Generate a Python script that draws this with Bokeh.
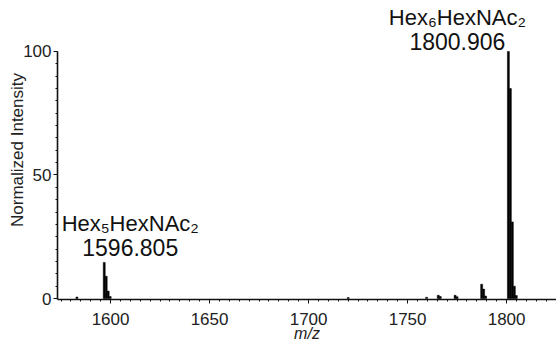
from bokeh.plotting import figure
from bokeh.models import SingleIntervalTicker, Range1d
from bokeh.embed import file_html
from bokeh.resources import INLINE
from bokeh.core.properties import value

# Spectrum (m/z, normalized intensity)
mz = [1583.0, 1596.8, 1597.8, 1598.8, 1599.8, 1720.0, 1759.6, 1765.5, 1766.5,
      1774.0, 1775.0, 1787.4, 1788.4, 1789.4, 1800.9, 1801.9, 1802.9, 1803.9, 1804.9]
intensity = [0.6, 14.6, 9.0, 3.0, 0.8, 0.4, 0.5, 1.3, 0.8,
             1.3, 0.7, 5.8, 3.8, 1.0, 100.0, 85.0, 31.0, 5.0, 1.2]

# Annotated peaks
peak_names = ["Hex\u2085HexNAc\u2082", "Hex\u2086HexNAc\u2082"]
peak_mz = [1596.805, 1800.906]
peak_height = [14.6, 100.0]
peak_mz_text = ["%.3f" % m for m in peak_mz]

FONT = "Liberation Sans"

p = figure(width=556, height=344, output_backend="svg", toolbar_location=None,
           x_range=Range1d(1573.2, 1825.2), y_range=Range1d(-0.4, 120.6),
           min_border_left=57, min_border_right=0, min_border_top=0,
           min_border_bottom=45, background_fill_color="white",
           border_fill_color="white")

p.vbar(x=mz, top=intensity, bottom=0, width=1.0, fill_color="black",
       line_color="black", line_width=0.5)

# labels anchored on the peaks
p.text(x=peak_mz, y=peak_height, text=peak_mz_text, text_font=value(FONT),
       text_font_size="23px", text_align="center", text_baseline="alphabetic",
       x_offset=[26, -51], y_offset=[-15, -10], text_color="#111")
p.text(x=peak_mz, y=peak_height, text=peak_names, text_font=value(FONT),
       text_font_size="22px", text_align="center", text_baseline="alphabetic",
       x_offset=[26, -51], y_offset=[-39, -34], text_color="#111")

p.xgrid.visible = False
p.ygrid.visible = False
p.outline_line_color = None

p.xaxis.ticker = SingleIntervalTicker(interval=50, num_minor_ticks=10)
p.yaxis.ticker = SingleIntervalTicker(interval=50, num_minor_ticks=10)
p.yaxis.bounds = (-0.4, 100)

for ax in (p.xaxis[0], p.yaxis[0]):
    ax.axis_line_width = 1.6
    ax.axis_line_color = "#111"
    ax.major_tick_line_color = "#111"
    ax.minor_tick_line_color = "#111"
    ax.major_tick_out = 4
    ax.major_tick_in = 0
    ax.minor_tick_out = 2
    ax.minor_tick_in = 0
    ax.major_label_text_font = FONT
    ax.major_label_text_font_size = "17px"
    ax.major_label_text_color = "#222"
    ax.axis_label_text_font = FONT
    ax.axis_label_text_color = "#222"

p.xaxis.major_label_standoff = 9
p.xaxis.axis_label = "m/z"
p.xaxis.axis_label_text_font_style = "italic"
p.xaxis.axis_label_text_font_size = "16px"
p.xaxis.axis_label_standoff = -3

p.yaxis.major_label_standoff = 2
p.yaxis.axis_label = "Normalized Intensity"
p.yaxis.axis_label_text_font_style = "normal"
p.yaxis.axis_label_text_font_size = "17px"
p.yaxis.axis_label_standoff = -7

open("out.html", "w").write(file_html(p, INLINE))
